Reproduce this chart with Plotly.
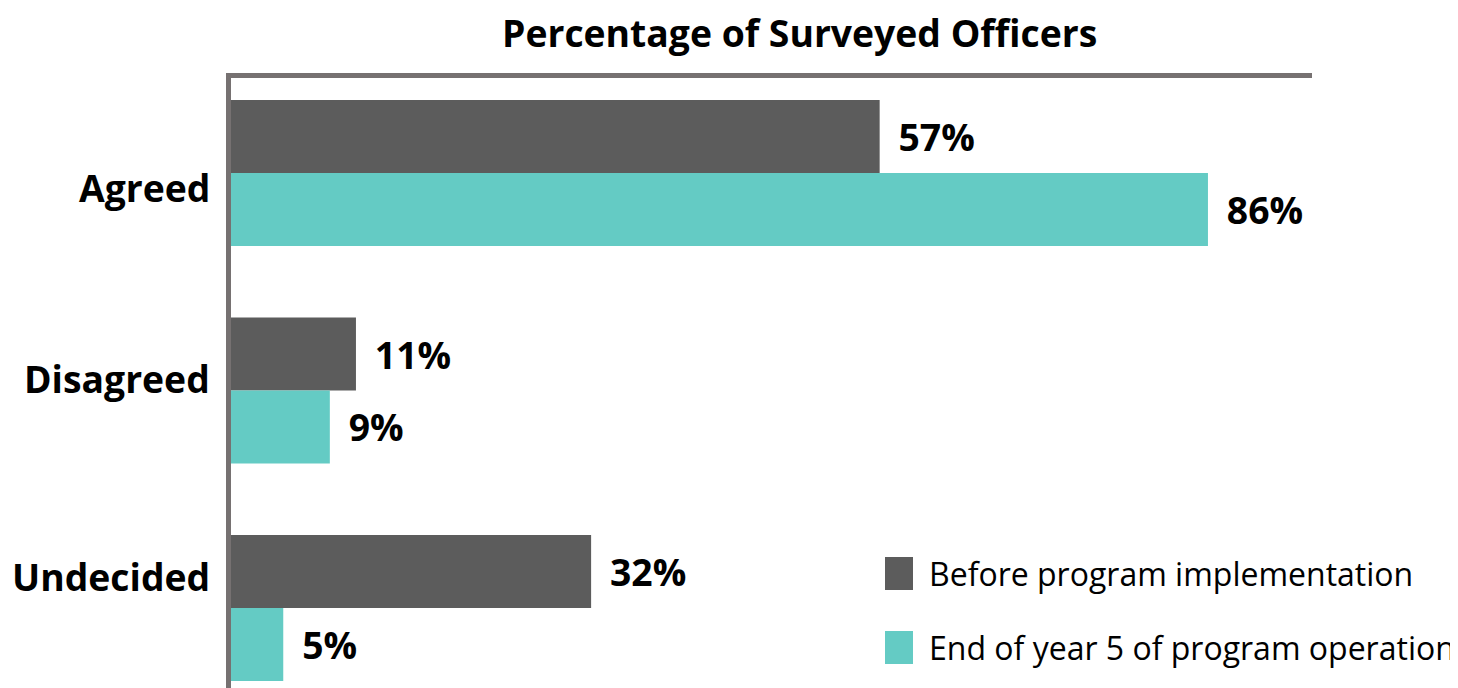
import plotly.graph_objects as go

# ---- data ----
categories = ["Agreed", "Disagreed", "Undecided"]
series_names = ["Before program implementation", "End of year 5 of program operation"]
before_values = [57.1, 11.0, 31.7]
after_values = [86.0, 8.7, 4.6]
before_labels = ["57%", "11%", "32%"]
after_labels = ["86%", "9%", "5%"]
title_text = "Percentage of Surveyed Officers"

# ---- style ----
OFF = 8  # page body margin
W, H = 1458 - OFF, 688 - OFF
ML, MT, MB = 231 - OFF, 78 - OFF, 0
MR = W - (1312 - OFF)
PW, PH = W - ML - MR, H - MT - MB
C_BEFORE = "#5c5c5c"
C_AFTER = "#64cbc4"
C_LINE = "#767171"
FONT = "Open Sans"
PAD = "\u00a0\u2009"
BIG = 37.3


def px_x(p):  # reference-image pixel -> paper
    return (p - OFF - ML) / PW


def px_y(p):
    return (H - MB - (p - OFF)) / PH


fig = go.Figure()
fig.add_trace(go.Bar(
    y=categories, x=before_values, orientation="h", name=series_names[0],
    marker=dict(color=C_BEFORE, line=dict(width=0)),
    text=[PAD + t for t in before_labels], textposition="outside",
    textfont=dict(family=FONT, size=BIG, color="black", weight=700),
    constraintext="none", cliponaxis=False, showlegend=False,
))
fig.add_trace(go.Bar(
    y=categories, x=after_values, orientation="h", name=series_names[1],
    marker=dict(color=C_AFTER, line=dict(width=0)),
    text=[PAD + t for t in after_labels], textposition="outside",
    textfont=dict(family=FONT, size=BIG, color="black", weight=700),
    constraintext="none", cliponaxis=False, showlegend=False,
))

units_per_px = 1 / 217.5
top_units = (173 - 78) * units_per_px
fig.update_yaxes(
    type="category", categoryorder="array", categoryarray=categories,
    range=[-top_units + PH * units_per_px, -top_units],
    showline=True, linecolor=C_LINE, linewidth=5,
    showticklabels=False, ticks="", showgrid=False, zeroline=False,
)
fig.update_xaxes(
    range=[0, PW / 11.36], side="top",
    showline=True, linecolor=C_LINE, linewidth=5,
    showticklabels=False, ticks="", showgrid=False, zeroline=False,
)

annotations = []
# category labels
yshifts = [-14, 12, 32]
for cat, ys in zip(categories, yshifts):
    annotations.append(dict(
        x=0, xref="paper", y=cat, yref="y", xanchor="right", yanchor="middle",
        xshift=-19, yshift=ys, showarrow=False, text=cat,
        font=dict(family=FONT, size=BIG, color="black", weight=700),
    ))
# title
annotations.append(dict(
    x=px_x(799), xref="paper", y=px_y(32), yref="paper",
    xanchor="center", yanchor="middle", showarrow=False, text=title_text,
    font=dict(family=FONT, size=BIG, color="black", weight=700),
))
# legend (manual)
shapes = []
legend_rows = [(series_names[0], C_BEFORE, 557, 590), (series_names[1], C_AFTER, 631, 664)]
for name, col, y0, y1 in legend_rows:
    shapes.append(dict(type="rect", xref="paper", yref="paper",
                       x0=px_x(885), x1=px_x(913), y0=px_y(y1), y1=px_y(y0),
                       fillcolor=col, line=dict(width=0)))
    annotations.append(dict(
        x=px_x(927), xref="paper", y=px_y((y0 + y1) / 2), yref="paper",
        xanchor="left", yanchor="middle", showarrow=False, text=name,
        font=dict(family=FONT, size=32, color="black"),
    ))

fig.update_layout(
    width=W, height=H, autosize=False,
    margin=dict(l=ML, r=MR, t=MT, b=MB, pad=0),
    barmode="group", bargap=0.329, bargroupgap=0,
    plot_bgcolor="white", paper_bgcolor="white",
    font=dict(family=FONT),
    annotations=annotations, shapes=shapes, showlegend=False,
)

fig.write_html("out.html")
